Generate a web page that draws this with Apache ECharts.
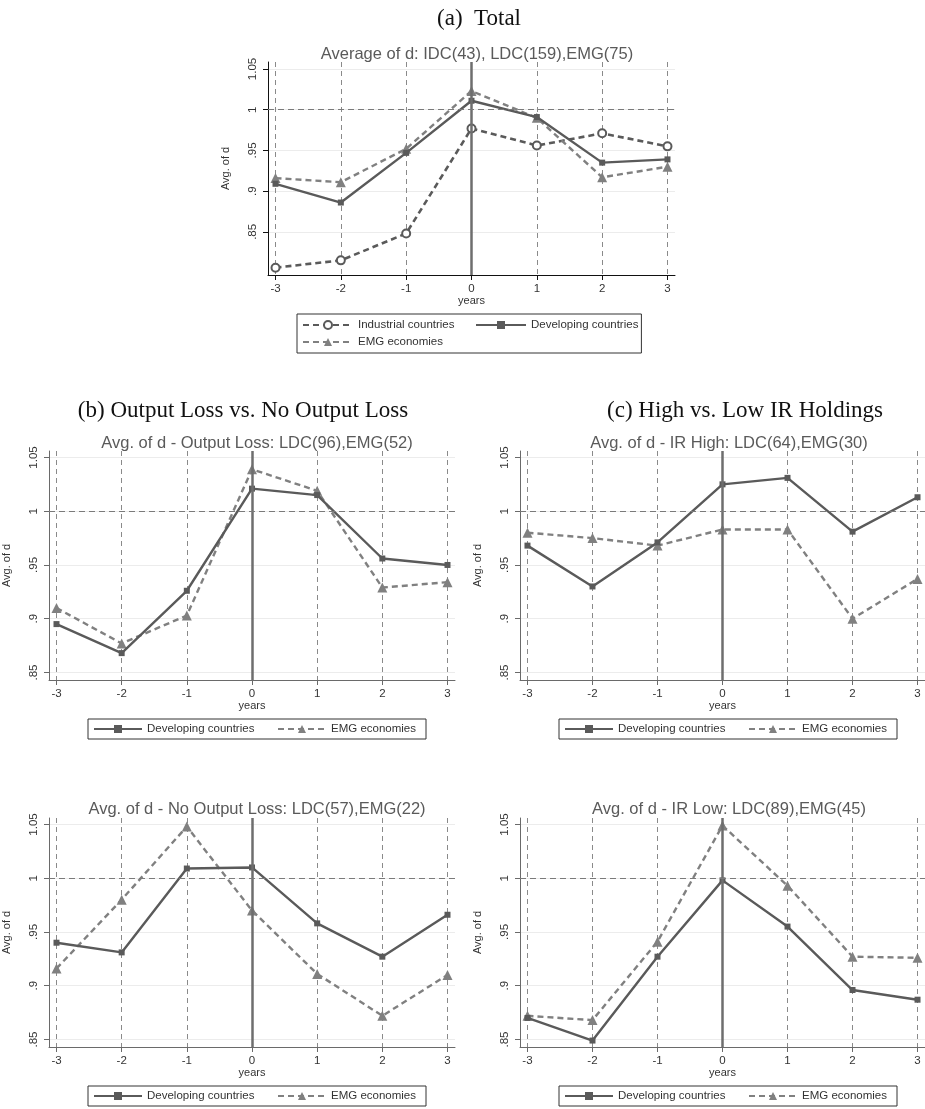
<!DOCTYPE html>
<html>
<head>
    <meta charset="UTF-8" />
    <title>avg of d</title>
    <script type="text/javascript" src="https://cdn.jsdelivr.net/npm/echarts@6/dist/echarts.min.js"></script>
</head>
<body style="margin:0;background:#fff;">

<div id="main" style="width: 925px;height: 1109px;"></div>

<script>
    // x positions (years around the event) and y tick values
    var years = [-3, -2, -1, 0, 1, 2, 3];
    var yTicks = [0.85, 0.9, 0.95, 1, 1.05];

    // (a) Total
    var totIDC = [0.806, 0.815, 0.848, 0.977, 0.956, 0.971, 0.955];
    var totLDC = [0.909, 0.886, 0.947, 1.011, 0.991, 0.935, 0.939];
    var totEMG = [0.916, 0.911, 0.952, 1.023, 0.990, 0.917, 0.930];
    // (b) output loss / no output loss
    var olLDC = [0.895, 0.868, 0.926, 1.021, 1.015, 0.956, 0.950];
    var olEMG = [0.910, 0.877, 0.903, 1.039, 1.019, 0.929, 0.934];
    var nolLDC = [0.940, 0.931, 1.009, 1.010, 0.958, 0.927, 0.966];
    var nolEMG = [0.916, 0.980, 1.048, 0.970, 0.911, 0.872, 0.910];
    // (c) IR high / IR low
    var irhLDC = [0.968, 0.930, 0.971, 1.025, 1.031, 0.981, 1.013];
    var irhEMG = [0.980, 0.975, 0.968, 0.983, 0.983, 0.900, 0.937];
    var irlLDC = [0.870, 0.849, 0.927, 0.998, 0.955, 0.896, 0.887];
    var irlEMG = [0.872, 0.868, 0.941, 1.049, 0.993, 0.927, 0.926];

    var sans = 'Liberation Sans';
    var serif = 'Liberation Serif';

    function pairs(vals) {
        return years.map(function (y, i) { return [y, vals[i]]; });
    }

    var grids = [
        {left: 268, top: 62, width: 407, height: 213},
        {left: 48, top: 451, width: 407, height: 229},
        {left: 520, top: 451, width: 407, height: 229},
        {left: 48, top: 818, width: 407, height: 229},
        {left: 520, top: 818, width: 407, height: 229}
    ];
    var yRange = [[0.797, 1.0586], [0.843, 1.056], [0.843, 1.056], [0.843, 1.056], [0.843, 1.056]];

    var xAxes = [], yAxes = [];
    grids.forEach(function (g, i) {
        var axisCol = i === 0 ? '#111' : '#6a6a6a';
        xAxes.push({
            gridIndex: i, type: 'value', min: -3.115, max: 3.115,
            name: 'years', nameLocation: 'middle', nameGap: 20,
            nameTextStyle: {fontFamily: sans, fontSize: 11, color: '#333'},
            axisLine: {onZero: false, lineStyle: {color: axisCol, width: 1}},
            axisTick: {length: 5, customValues: years, lineStyle: {color: axisCol}},
            axisLabel: {customValues: years, margin: 8, fontFamily: sans, fontSize: 11.5, color: '#333'},
            splitLine: {show: true, lineStyle: {color: '#8a8a8a', type: [5, 4], width: 1}}
        });
        yAxes.push({
            gridIndex: i, type: 'value', min: yRange[i][0], max: yRange[i][1],
            name: 'Avg. of d', nameLocation: 'middle', nameGap: 37,
            nameTextStyle: {fontFamily: sans, fontSize: 11, color: '#333'},
            axisLine: {show: true, onZero: false, lineStyle: {color: axisCol, width: 1}},
            axisTick: {show: true, length: 5, customValues: yTicks, lineStyle: {color: axisCol}},
            axisLabel: {
                customValues: yTicks, rotate: 90, margin: 9, fontFamily: sans, fontSize: 11.5, color: '#333',
                formatter: function (v) { return String(v).replace(/^0\./, '.'); }
            },
            splitLine: {show: true, lineStyle: {color: '#ececec', width: 1}}
        });
    });

    var refLines = {
        silent: true, symbol: 'none', label: {show: false}, animation: false,
        data: [
            {xAxis: 0, lineStyle: {color: '#6e6e6e', width: 2.5, type: 'solid'}},
            {yAxis: 1, lineStyle: {color: '#7a7a7a', width: 1, type: [6, 4]}}
        ]
    };

    function ldc(vals, gi) {
        return {
            name: 'Developing countries', type: 'line', xAxisIndex: gi, yAxisIndex: gi,
            data: pairs(vals), symbol: 'rect', symbolSize: 6,
            lineStyle: {color: '#5a5a5a', width: 2.4},
            itemStyle: {color: '#5a5a5a'},
            markLine: refLines, z: 3
        };
    }
    function emg(vals, gi) {
        return {
            name: 'EMG economies', type: 'line', xAxisIndex: gi, yAxisIndex: gi,
            data: pairs(vals), symbol: 'triangle', symbolSize: 10,
            lineStyle: {color: '#808080', width: 2.4, type: [6, 4]},
            itemStyle: {color: '#808080'}, z: 2
        };
    }

    var series = [
        {
            name: 'Industrial countries', type: 'line', xAxisIndex: 0, yAxisIndex: 0,
            data: pairs(totIDC), symbol: 'emptyCircle', symbolSize: 8,
            lineStyle: {color: '#5a5a5a', width: 2.6, type: [6, 4]},
            itemStyle: {color: '#5a5a5a', borderWidth: 1.2}, z: 2
        },
        ldc(totLDC, 0), emg(totEMG, 0),
        ldc(olLDC, 1), emg(olEMG, 1),
        ldc(irhLDC, 2), emg(irhEMG, 2),
        ldc(nolLDC, 3), emg(nolEMG, 3),
        ldc(irlLDC, 4), emg(irlEMG, 4)
    ];

    function subTitle(text, x, y) {
        return {text: text, left: x, top: y, textAlign: 'center',
            textStyle: {fontFamily: sans, fontSize: 16.5, fontWeight: 'normal', color: '#5a5a5a'}};
    }
    function head(text, x, y) {
        return {text: text, left: x, top: y, textAlign: 'center',
            textStyle: {fontFamily: serif, fontSize: 23, fontWeight: 'normal', color: '#111'}};
    }

    var legendBase = {
        orient: 'horizontal', itemGap: 3, itemHeight: 10,
        borderColor: '#333', borderWidth: 1, borderRadius: 0, backgroundColor: '#fff',
        textStyle: {fontFamily: sans, fontSize: 11.5, color: '#333', lineHeight: 14}
    };
    function pairLegend(x, y) {
        return Object.assign({}, legendBase, {
            left: x, top: y, itemWidth: 48, padding: [3, 7, 3, 5],
            data: [
                {name: 'Developing countries', textStyle: {width: 127}},
                {name: 'EMG economies', textStyle: {width: 88}}
            ]
        });
    }

    var option = {
        animation: false,
        title: [
            head('(a)  Total', 474, 2),
            subTitle('Average of d: IDC(43), LDC(159),EMG(75)', 472, 41),
            head('(b) Output Loss vs. No Output Loss', 238, 394),
            head('(c) High vs. Low IR Holdings', 740, 394),
            subTitle('Avg. of d - Output Loss: LDC(96),EMG(52)', 252, 430),
            subTitle('Avg. of d - IR High: LDC(64),EMG(30)', 724, 430),
            subTitle('Avg. of d - No Output Loss: LDC(57),EMG(22)', 252, 796),
            subTitle('Avg. of d - IR Low: LDC(89),EMG(45)', 724, 796)
        ],
        legend: [
            Object.assign({}, legendBase, {
                left: 297, top: 314, width: 345, itemWidth: 50, padding: [4, 3, 4, 5],
                data: [
                    {name: 'Industrial countries', textStyle: {width: 114}},
                    {name: 'Developing countries', textStyle: {width: 106}},
                    {name: 'EMG economies', textStyle: {width: 114}}
                ]
            }),
            pairLegend(88, 719),
            pairLegend(559, 719),
            pairLegend(88, 1086),
            pairLegend(559, 1086)
        ],
        grid: grids,
        xAxis: xAxes,
        yAxis: yAxes,
        series: series
    };

    var mychart = echarts.init(document.getElementById('main'));
    mychart.setOption(option);
</script>

</body>
</html>
